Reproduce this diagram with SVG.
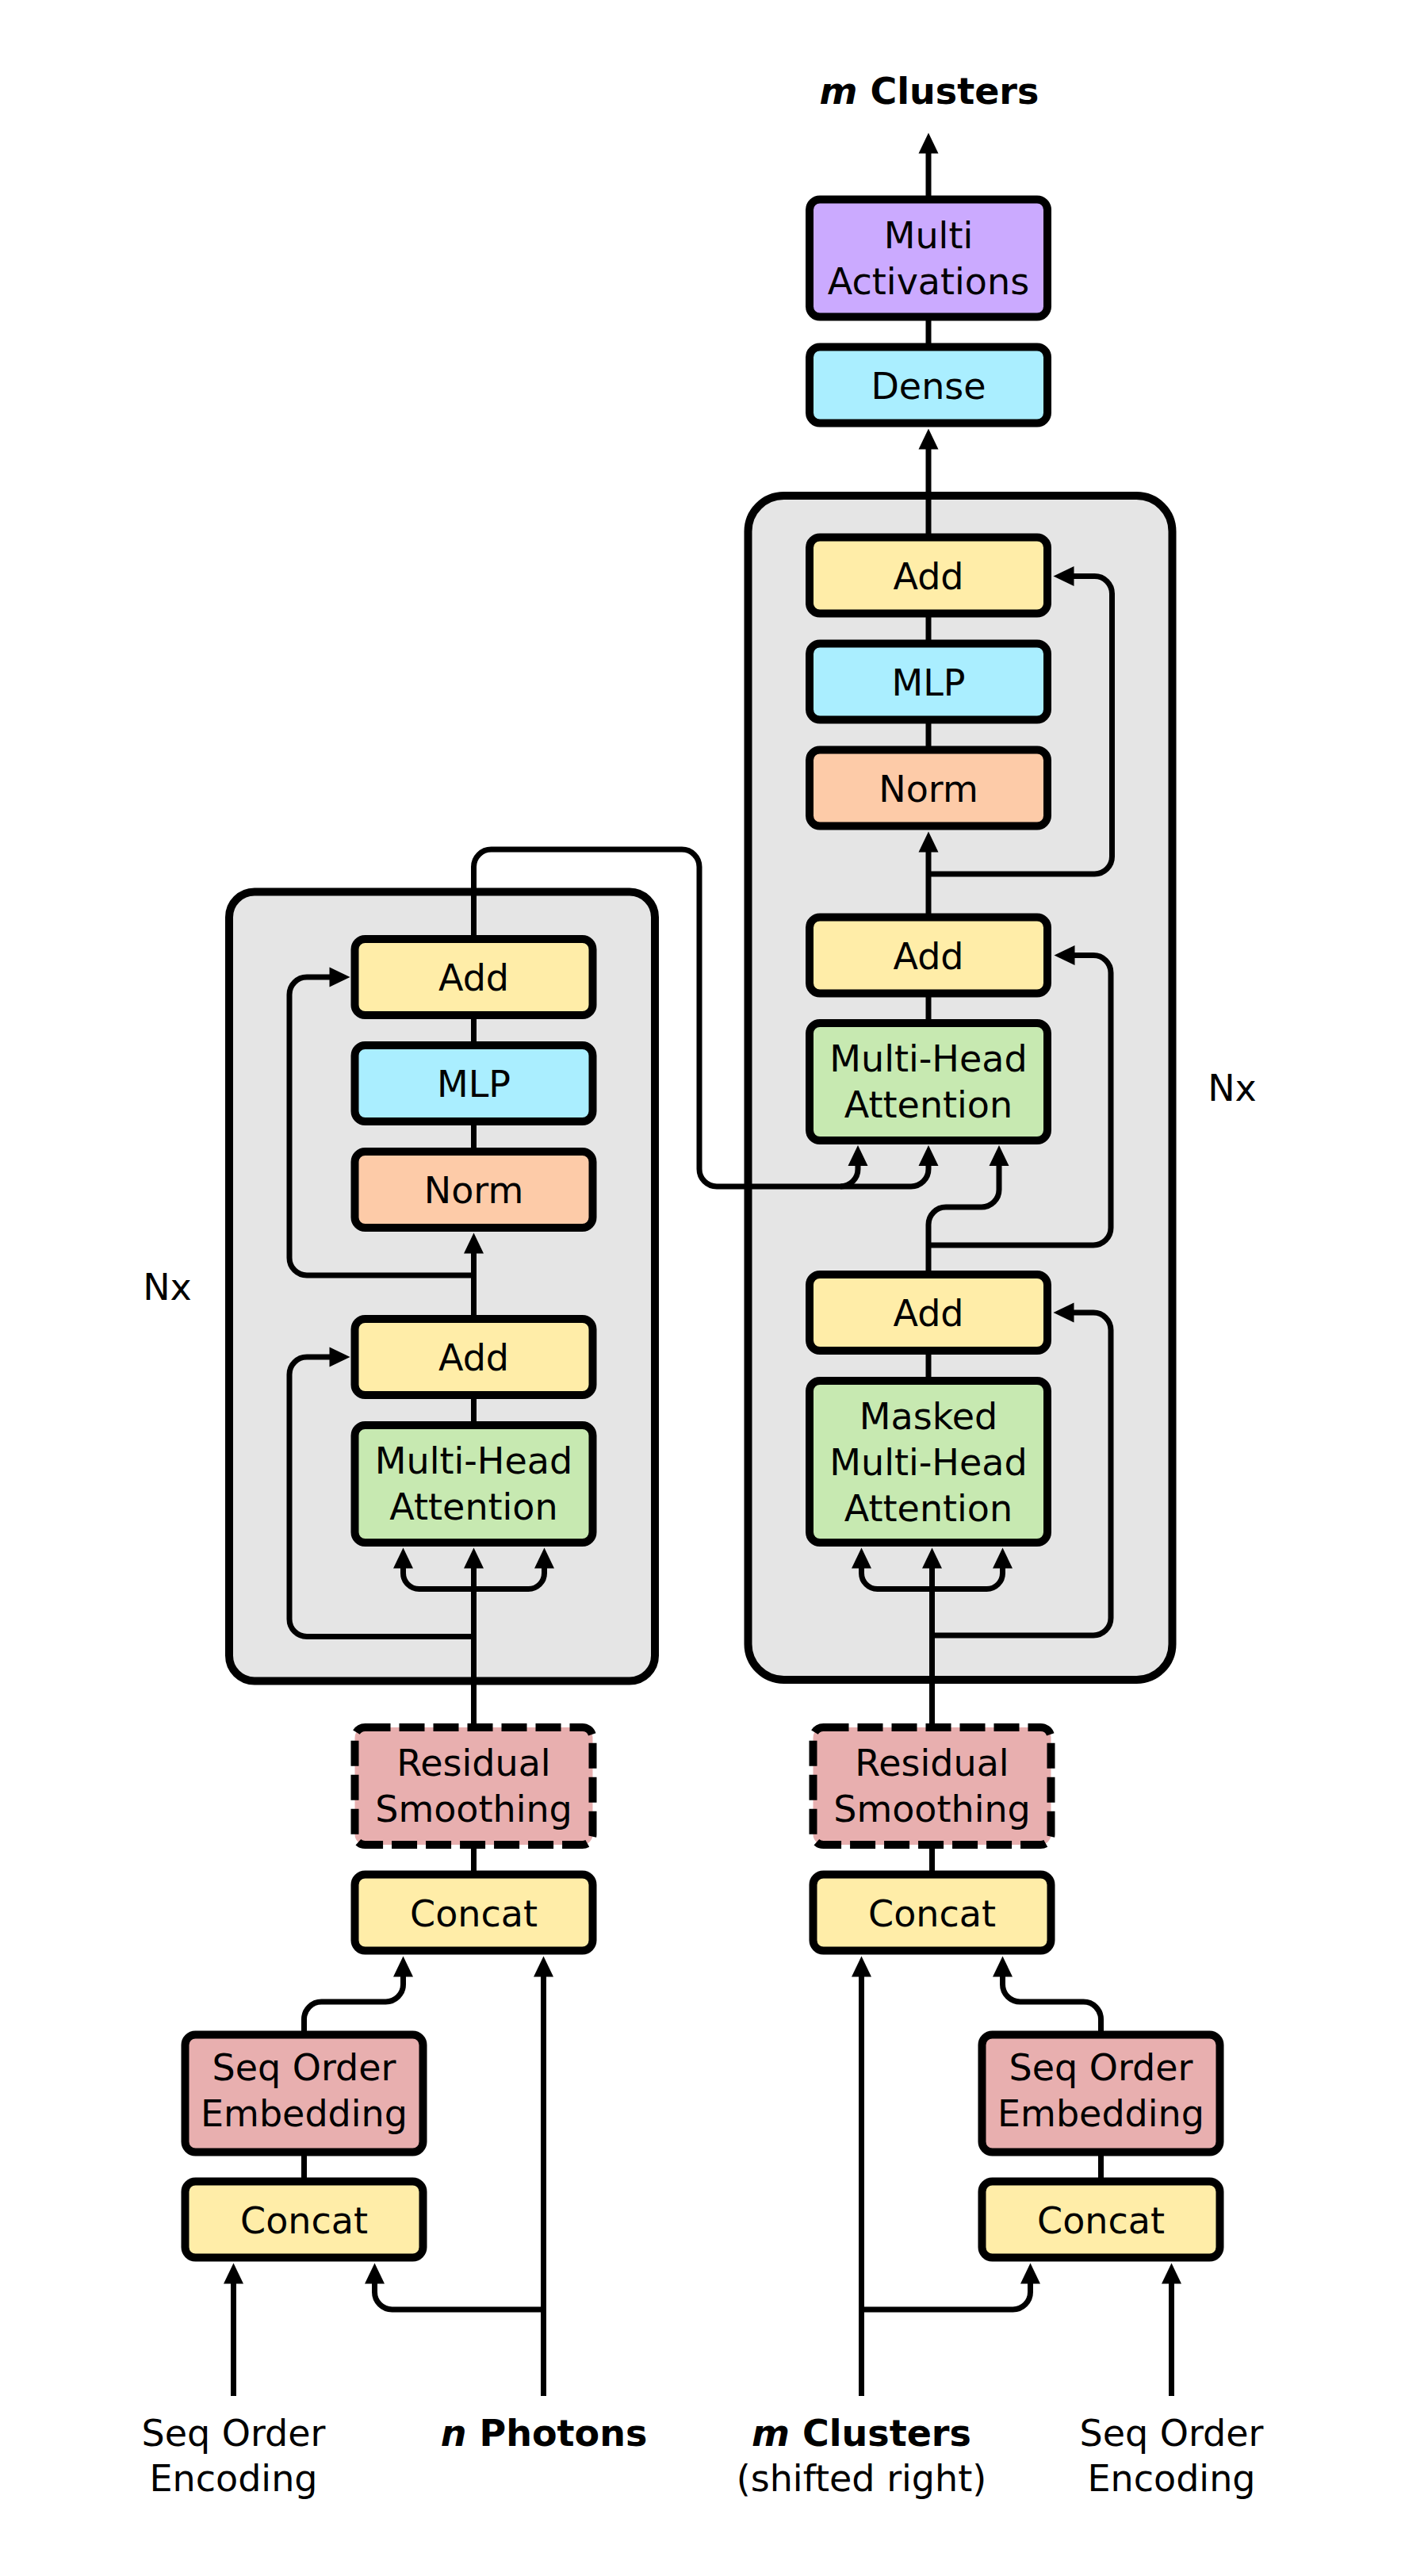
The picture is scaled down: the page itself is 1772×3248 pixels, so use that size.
<svg xmlns="http://www.w3.org/2000/svg" width="1772" height="3248" viewBox="0 0 1772 3248">
  <style>
    text { font-family: "DejaVu Sans", "Liberation Sans", sans-serif; font-size: 46px; fill: #000; }
    .c { text-anchor: middle; }
    .b { font-weight: bold; }
    .bi { font-weight: bold; font-style: italic; }
    .box { stroke: #000; stroke-width: 10; }
    .stack { fill: #e5e5e5; stroke: #000; stroke-width: 10; }
    .yellow { fill: #ffeda8; }
    .blue { fill: #aaeeff; }
    .orange { fill: #fdcba8; }
    .green { fill: #c7e9b1; }
    .pink { fill: #e8afaf; }
    .purple { fill: #cbaaff; }
    .dashed { stroke-dasharray: 32 11; }
    .wire { fill: none; stroke: #000; stroke-width: 7; stroke-linejoin: round; }
    .arrow { marker-end: url(#ah); }
  </style>
  <defs>
    <marker id="ah" markerUnits="userSpaceOnUse" markerWidth="28" markerHeight="26" viewBox="0 -13 28 26" refX="0.5" refY="0" orient="auto" overflow="visible">
      <path d="M0,-12.5 L26,0 L0,12.5 z" fill="#000"/>
    </marker>
  </defs>

  <rect width="1772" height="3248" fill="#fff"/>

  <!-- repeated-block frames -->
  <g id="encoder-stack">
    <rect class="stack" x="289" y="1124.5" width="537" height="995" rx="32"/>
  </g>
  <g id="decoder-stack">
    <rect class="stack" x="943.5" y="625" width="535" height="1493" rx="45"/>
  </g>

  <!-- connectors -->
  <g id="connectors">
    <!-- decoder output side -->
    <path class="wire arrow" d="M1171 252 V193"/>
    <path class="wire" d="M1171 400 V438"/>
    <path class="wire arrow" d="M1171 678 V566"/>
    <path class="wire" d="M1171 773 V812"/>
    <path class="wire" d="M1171 907 V946"/>
    <path class="wire arrow" d="M1171 1157 V1074"/>
    <path class="wire arrow" d="M1171 1102 H1380.5 A22 22 0 0 0 1402.5 1080 V748.5 A22 22 0 0 0 1380.5 726.5 H1354"/>
    <path class="wire" d="M1171 1252 V1290"/>
    <!-- middle add output: residual + third attention input -->
    <path class="wire arrow" d="M1171 1608 V1544 A22 22 0 0 1 1193 1522 H1238 A22 22 0 0 0 1260 1500 V1469.5"/>
    <path class="wire arrow" d="M1171 1570 H1379 A22 22 0 0 0 1401 1548 V1226.5 A22 22 0 0 0 1379 1204.5 H1355"/>
    <path class="wire" d="M1171 1703 V1741"/>
    <!-- encoder output into decoder attention -->
    <path class="wire arrow" d="M597.5 1185 V1093 A22 22 0 0 1 619.5 1071 H860 A22 22 0 0 1 882 1093 V1474 A22 22 0 0 0 904 1496 H1149 A22 22 0 0 0 1171 1474 V1469.5"/>
    <path class="wire arrow" d="M1060 1496 A22 22 0 0 0 1082 1474 V1469.5"/>
    <!-- decoder input side -->
    <path class="wire arrow" d="M1175.5 2178 V1977"/>
    <path class="wire arrow" d="M1175.5 2003.5 H1106.5 A20 20 0 0 1 1086.5 1983.5 V1977"/>
    <path class="wire arrow" d="M1175.5 2003.5 H1244.5 A20 20 0 0 0 1264.5 1983.5 V1977"/>
    <path class="wire arrow" d="M1175.5 2062 H1379 A22 22 0 0 0 1401 2040 V1677 A22 22 0 0 0 1379 1655 H1354"/>
    <!-- encoder -->
    <path class="wire" d="M597.5 1275 V1319"/>
    <path class="wire" d="M597.5 1409 V1453"/>
    <path class="wire arrow" d="M597.5 1664 V1580"/>
    <path class="wire arrow" d="M597.5 1608 H387 A22 22 0 0 1 365 1586 V1254 A22 22 0 0 1 387 1232 H416"/>
    <path class="wire" d="M597.5 1754 V1798"/>
    <path class="wire arrow" d="M597.5 2178 V1977"/>
    <path class="wire arrow" d="M597.5 2003.5 H528.5 A20 20 0 0 1 508.5 1983.5 V1977"/>
    <path class="wire arrow" d="M597.5 2003.5 H666.5 A20 20 0 0 0 686.5 1983.5 V1977"/>
    <path class="wire arrow" d="M597.5 2063.5 H387 A22 22 0 0 1 365 2041.5 V1733 A22 22 0 0 1 387 1711 H416"/>
    <!-- encoder inputs -->
    <path class="wire" d="M597.5 2321 V2369"/>
    <path class="wire arrow" d="M383.5 2566 V2546 A22 22 0 0 1 405.5 2524 H486.5 A22 22 0 0 0 508.5 2502 V2492"/>
    <path class="wire arrow" d="M685.5 3021 V2492"/>
    <path class="wire arrow" d="M685.5 2912 H494.5 A22 22 0 0 1 472.5 2890 V2879"/>
    <path class="wire" d="M383.5 2708 V2756"/>
    <path class="wire arrow" d="M294.5 3021 V2879"/>
    <!-- decoder inputs -->
    <path class="wire" d="M1175.5 2321 V2369"/>
    <path class="wire arrow" d="M1388.5 2566 V2546 A22 22 0 0 0 1366.5 2524 H1286.5 A22 22 0 0 1 1264.5 2502 V2492"/>
    <path class="wire arrow" d="M1086.5 3021 V2492"/>
    <path class="wire arrow" d="M1086.5 2912 H1277.5 A22 22 0 0 0 1299.5 2890 V2879"/>
    <path class="wire" d="M1388.5 2708 V2756"/>
    <path class="wire arrow" d="M1477.5 3021 V2879"/>
  </g>

  <!-- decoder head -->
  <g id="multi-activations">
    <rect class="box purple" x="1021" y="251.5" width="300" height="148" rx="13"/>
    <text class="c" x="1171" y="313">Multi</text>
    <text class="c" x="1171" y="371">Activations</text>
  </g>
  <g id="dense">
    <rect class="box blue" x="1021" y="437.5" width="300" height="96" rx="13"/>
    <text class="c" x="1171" y="502.5">Dense</text>
  </g>

  <!-- decoder block -->
  <g id="dec-add-3">
    <rect class="box yellow" x="1021" y="677.5" width="300" height="96" rx="13"/>
    <text class="c" x="1171" y="742.5">Add</text>
  </g>
  <g id="dec-mlp">
    <rect class="box blue" x="1021" y="811.5" width="300" height="96" rx="13"/>
    <text class="c" x="1171" y="876.5">MLP</text>
  </g>
  <g id="dec-norm">
    <rect class="box orange" x="1021" y="945.5" width="300" height="96" rx="13"/>
    <text class="c" x="1171" y="1010.5">Norm</text>
  </g>
  <g id="dec-add-2">
    <rect class="box yellow" x="1021" y="1156.5" width="300" height="96" rx="13"/>
    <text class="c" x="1171" y="1221.5">Add</text>
  </g>
  <g id="dec-cross-attention">
    <rect class="box green" x="1021" y="1290" width="300" height="148" rx="13"/>
    <text class="c" x="1171" y="1351">Multi-Head</text>
    <text class="c" x="1171" y="1409">Attention</text>
  </g>
  <g id="dec-add-1">
    <rect class="box yellow" x="1021" y="1607" width="300" height="96" rx="13"/>
    <text class="c" x="1171" y="1672">Add</text>
  </g>
  <g id="dec-masked-attention">
    <rect class="box green" x="1021" y="1741" width="300" height="204" rx="13"/>
    <text class="c" x="1171" y="1801.5">Masked</text>
    <text class="c" x="1171" y="1859.5">Multi-Head</text>
    <text class="c" x="1171" y="1917.5">Attention</text>
  </g>

  <!-- encoder block -->
  <g id="enc-add-2">
    <rect class="box yellow" x="447.5" y="1184" width="300" height="96" rx="13"/>
    <text class="c" x="597.5" y="1249">Add</text>
  </g>
  <g id="enc-mlp">
    <rect class="box blue" x="447.5" y="1318" width="300" height="96" rx="13"/>
    <text class="c" x="597.5" y="1383">MLP</text>
  </g>
  <g id="enc-norm">
    <rect class="box orange" x="447.5" y="1452" width="300" height="96" rx="13"/>
    <text class="c" x="597.5" y="1517">Norm</text>
  </g>
  <g id="enc-add-1">
    <rect class="box yellow" x="447.5" y="1663" width="300" height="96" rx="13"/>
    <text class="c" x="597.5" y="1728">Add</text>
  </g>
  <g id="enc-attention">
    <rect class="box green" x="447.5" y="1797" width="300" height="148" rx="13"/>
    <text class="c" x="597.5" y="1858">Multi-Head</text>
    <text class="c" x="597.5" y="1916">Attention</text>
  </g>

  <!-- encoder input path -->
  <g id="enc-residual-smoothing">
    <rect class="box pink dashed" x="447.5" y="2178" width="300" height="148" rx="13"/>
    <text class="c" x="597.5" y="2239">Residual</text>
    <text class="c" x="597.5" y="2297">Smoothing</text>
  </g>
  <g id="enc-concat-2">
    <rect class="box yellow" x="447.5" y="2363.5" width="300" height="96" rx="13"/>
    <text class="c" x="597.5" y="2428.5">Concat</text>
  </g>
  <g id="enc-seq-embedding">
    <rect class="box pink" x="233.5" y="2565.5" width="300" height="148" rx="13"/>
    <text class="c" x="383.5" y="2623">Seq Order</text>
    <text class="c" x="383.5" y="2681">Embedding</text>
  </g>
  <g id="enc-concat-1">
    <rect class="box yellow" x="233.5" y="2750.5" width="300" height="96" rx="13"/>
    <text class="c" x="383.5" y="2815.5">Concat</text>
  </g>

  <!-- decoder input path -->
  <g id="dec-residual-smoothing">
    <rect class="box pink dashed" x="1025.5" y="2178" width="300" height="148" rx="13"/>
    <text class="c" x="1175.5" y="2239">Residual</text>
    <text class="c" x="1175.5" y="2297">Smoothing</text>
  </g>
  <g id="dec-concat-2">
    <rect class="box yellow" x="1025.5" y="2363.5" width="300" height="96" rx="13"/>
    <text class="c" x="1175.5" y="2428.5">Concat</text>
  </g>
  <g id="dec-seq-embedding">
    <rect class="box pink" x="1238.5" y="2565.5" width="300" height="148" rx="13"/>
    <text class="c" x="1388.5" y="2623">Seq Order</text>
    <text class="c" x="1388.5" y="2681">Embedding</text>
  </g>
  <g id="dec-concat-1">
    <rect class="box yellow" x="1238.5" y="2750.5" width="300" height="96" rx="13"/>
    <text class="c" x="1388.5" y="2815.5">Concat</text>
  </g>

  <!-- labels -->
  <g id="labels">
    <text class="c b" x="1172" y="131"><tspan class="bi">m</tspan> Clusters</text>
    <text class="c" x="1554" y="1388">Nx</text>
    <text class="c" x="211" y="1639">Nx</text>
    <text class="c" x="294.5" y="3084">Seq Order</text>
    <text class="c" x="294.5" y="3141">Encoding</text>
    <text class="c b" x="686" y="3084"><tspan class="bi">n</tspan> Photons</text>
    <text class="c b" x="1086.5" y="3084"><tspan class="bi">m</tspan> Clusters</text>
    <text class="c" x="1086.5" y="3141">(shifted right)</text>
    <text class="c" x="1477.5" y="3084">Seq Order</text>
    <text class="c" x="1477.5" y="3141">Encoding</text>
  </g>
</svg>
